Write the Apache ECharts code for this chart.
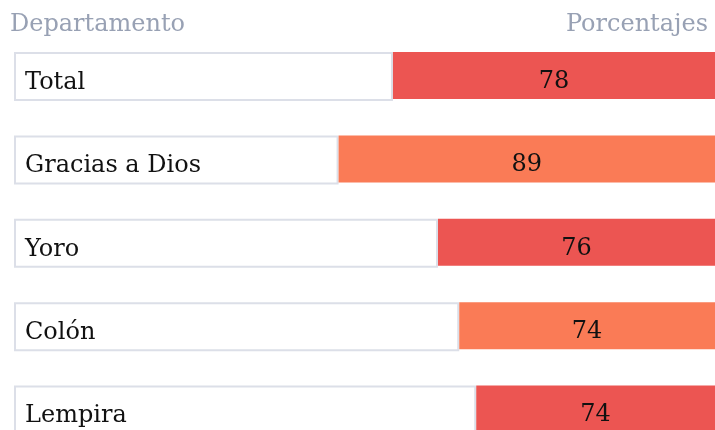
<!DOCTYPE html>
<html>
<head>
<meta charset="utf-8">
<script src="https://cdn.jsdelivr.net/npm/echarts@6/dist/echarts.min.js"></script>
<style>
html,body{margin:0;padding:0;background:#fff;}
#main{width:715px;height:430px;}
</style>
</head>
<body>
<div id="main"></div>
<script>
// Data
const categories = ['Total', 'Gracias a Dios', 'Yoro', 'Colón', 'Lempira'];
const values = [78, 89, 76, 74, 74];
// extent of the white label box for each row (axis units)
const labelBox = [89.2, 76.4, 99.8, 104.8, 108.8];
const barColors = ['#ec5552', '#fa7b56', '#ec5552', '#fa7b56', '#ec5552'];
const headerLeft = 'Departamento';
const headerRight = 'Porcentajes';

const FONT = 'DejaVu Serif';
const chart = echarts.init(document.getElementById('main'), null, {renderer: 'canvas'});

chart.setOption({
  animation: false,
  backgroundColor: '#ffffff',
  title: [
    {text: headerLeft, left: 10, top: 13, padding: 0,
     textStyle: {fontFamily: FONT, fontSize: 24, fontWeight: 'normal', color: '#98a1b4'}},
    {text: headerRight, right: 7, top: 13, padding: 0,
     textStyle: {fontFamily: FONT, fontSize: 24, fontWeight: 'normal', color: '#98a1b4'}}
  ],
  grid: {left: 14, right: 0, top: 33.8, height: 417, containLabel: false, outerBoundsMode: 'none'},
  xAxis: {type: 'value', min: 0, max: 165, show: false},
  yAxis: {type: 'category', data: categories, inverse: true, show: false},
  series: [
    {
      type: 'bar', stack: 'box', barWidth: 49, barGap: '-100%',
      data: labelBox,
      itemStyle: {color: '#ffffff', borderColor: '#dcdfe8', borderWidth: 2},
      label: {
        show: true, position: 'insideLeft', distance: 11, offset: [0, 6],
        formatter: p => categories[p.dataIndex],
        fontFamily: FONT, fontSize: 24, color: '#111111'
      },
      silent: true
    },
    {
      type: 'bar', stack: 'val', barWidth: 47,
      data: labelBox,
      itemStyle: {color: 'rgba(0,0,0,0)'},
      silent: true
    },
    {
      type: 'bar', stack: 'val', barWidth: 47, clip: true,
      data: values.map((v, i) => ({value: v, itemStyle: {color: barColors[i]}})),
      label: {
        show: true, position: 'inside', offset: [0, 6],
        fontFamily: FONT, fontSize: 24, color: '#111111'
      },
      silent: true
    }
  ]
});
</script>
</body>
</html>
